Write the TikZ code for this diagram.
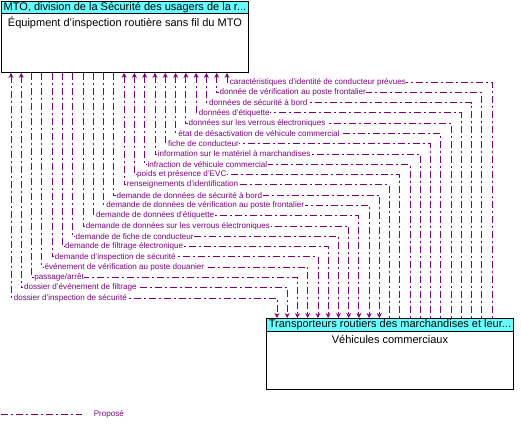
\documentclass[tikz,border=0pt]{standalone}
\usepackage{fontspec}
\setmainfont{Liberation Sans}
\usetikzlibrary{arrows.meta,positioning}
\definecolor{flowpurple}{RGB}{128,0,128}
\definecolor{headcyan}{RGB}{102,255,255}
\tikzset{
  flow/.style={
    flowpurple,
    line width=0.8pt,
    dash pattern=on 7pt off 3pt on 2pt off 3pt,
    >={Stealth[length=5pt,width=5pt]}
  },
  to-mto/.style={<-},
  to-cv/.style={->},
  to-both/.style={<->},
  flow-label/.style={fill=white, text=flowpurple, font=\fontsize{8.1}{9}\selectfont, inner sep=0.6pt, anchor=west},
  box-outline/.style={draw=black, line width=0.9pt, anchor=north west, inner sep=0pt, minimum width=247pt, minimum height=71pt},
  box-head/.style={box-outline, fill=headcyan, minimum height=12pt, font=\fontsize{11}{12}\selectfont},
  box-body/.style={inner sep=0pt, font=\fontsize{11}{12}\selectfont}
}

\begin{document}
\begin{tikzpicture}[x=1pt,y=-1pt]
  \useasboundingbox (0,0) rectangle (521,429);

  % MTO equipment
  \node[box-outline] (mto) at (1,1) {};
  \node[box-head] (mto-head) at (1,1) {MTO, division de la Sécurité des usagers de la r...};
  \node[box-body, below=3pt of mto-head] (mto-body) {Équipment d'inspection routière sans fil du MTO};

  % commercial vehicles
  \node[box-outline] (cv) at (266,318) {};
  \node[box-head, minimum height=13pt] (cv-head) at (266,318) {Transporteurs routiers des marchandises et leur...};
  \node[box-body, below=3pt of cv-head] (cv-body) {Véhicules commerciaux};

  % Flows
  \foreach \n/\txt/\dir in {
    1/caractéristiques d'identité de conducteur prévues/to-mto,
    2/donnée de vérification au poste frontalier/to-mto,
    3/données de sécurité à bord/to-mto,
    4/données d'étiquette/to-mto,
    5/données sur les verrous électroniques/to-mto,
    6/état de désactivation de véhicule commercial/to-mto,
    7/fiche de conducteur/to-mto,
    8/information sur le matériel à marchandises/to-mto,
    9/infraction de véhicule commercial/to-mto,
    10/poids et présence d'EVC/to-mto,
    11/renseignements d'identification/to-mto,
    12/demande de données de sécurité à bord/to-cv,
    13/demande de données de vérification au poste frontalier/to-cv,
    14/demande de données d'étiquette/to-cv,
    15/demande de données sur les verrous électroniques/to-cv,
    16/demande de fiche de conducteur/to-cv,
    17/demande de filtrage électronique/to-cv,
    18/demande d'inspection de sécurité/to-cv,
    19/événement de vérification au poste douanier/to-cv,
    20/{passage/arrêt}/to-cv,
    21/dossier d'événement de filtrage/to-both,
    22/dossier d'inspection de sécurité/to-both} {
    \pgfmathsetmacro{\xt}{227-(\n-1)*10.286}
    \pgfmathsetmacro{\xb}{492-(\n-1)*10.24}
    \pgfmathsetmacro{\yy}{82+(\n-1)*10.286}
    \coordinate (t\n) at (\xt,\yy);
    \coordinate (b\n) at (\xb,\yy);
    \draw[flow,\dir] (mto.south -| t\n) -- (t\n) -- (b\n) -- (cv.north -| b\n);
    \node[flow-label] (f\n) at ([xshift=2pt]t\n) {\txt};
  }

  % Legend
  \coordinate (lg-start) at (1,414);
  \coordinate (lg-end) at (82,414);
  \draw[flow] (lg-start) -- (lg-end);
  \node[flow-label] (lg-text) at (93,414) {Proposé};
\end{tikzpicture}
\end{document}
